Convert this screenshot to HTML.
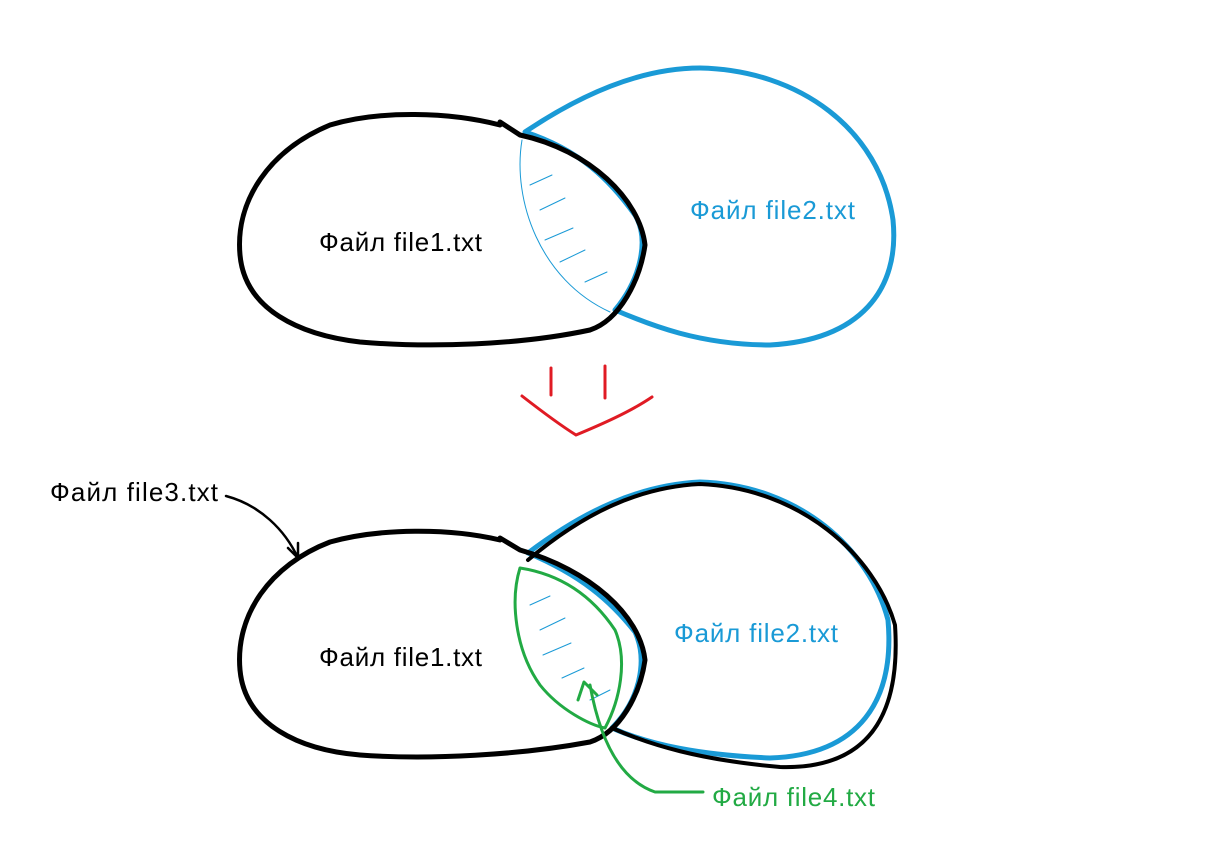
<!DOCTYPE html>
<html><head><meta charset="utf-8"><style>
body{margin:0;background:#fff;}
svg{display:block}
text{font-family:"Liberation Sans","DejaVu Sans",sans-serif;font-size:26px}
</style></head><body>
<svg width="1206" height="860" viewBox="0 0 1206 860">
<g fill="none" stroke-linecap="round" stroke-linejoin="round">
 <path stroke="#1a9ad6" stroke-width="5" d="M525,132 C580,95 640,68 700,68 C800,70 880,130 893,220 C900,290 860,340 770,345 C700,345 650,325 615,310 C640,280 650,240 635,215 C610,180 580,150 525,132 Z"/>
 <path stroke="#1a9ad6" stroke-width="1" d="M522,140 C512,200 540,280 610,312"/>
 <path stroke="#000" stroke-width="5" d="M500,125 C450,112 380,110 330,125 C270,150 235,200 240,255 C245,310 300,335 360,342 C430,348 520,345 590,330 C620,320 640,280 645,245 C640,200 590,150 520,135 L500,122"/>
 <g stroke="#1a9ad6" stroke-width="1">
  <path d="M530,185 l22,-10"/><path d="M540,210 l25,-12"/><path d="M545,240 l28,-12"/><path d="M560,262 l25,-12"/><path d="M585,282 l22,-10"/>
 </g>
 <text x="319" y="251" fill="#000" textLength="163">Файл file1.txt</text>
 <text x="690" y="219" fill="#1a9ad6" textLength="165">Файл file2.txt</text>
</g>
<g fill="none" stroke="#e01b24" stroke-width="3" stroke-linecap="round">
 <path d="M551,368 L551,395"/><path d="M605,366 L605,398"/>
 <path d="M522,396 C540,410 560,425 576,435 C600,425 630,412 652,397"/>
</g>
<g fill="none" stroke-linecap="round" stroke-linejoin="round">
 <path stroke="#1a9ad6" stroke-width="5" d="M528,553 C585,510 640,485 700,482 C800,485 870,550 888,620 C895,700 860,755 770,758 C700,755 650,745 612,728 C640,700 648,660 635,632 C610,600 580,575 528,553 Z"/>
 <path stroke="#000" stroke-width="4" d="M528,560 C585,512 640,487 700,484 C800,488 875,555 895,625 C900,700 880,770 780,767 C700,760 650,745 612,728"/>
 <path stroke="#000" stroke-width="5" d="M500,540 C450,528 380,528 330,542 C270,565 235,615 240,670 C245,725 300,750 360,755 C430,760 520,755 590,742 C620,732 640,695 645,660 C640,615 590,570 520,550 L500,538"/>
 <path stroke="#22aa44" stroke-width="3" d="M520,568 C510,600 515,650 540,685 C560,710 590,725 605,728 C620,700 628,660 615,630 C595,600 565,575 520,568 Z"/>
 <g stroke="#1a9ad6" stroke-width="1">
  <path d="M530,605 l20,-9"/><path d="M540,630 l25,-12"/><path d="M543,655 l28,-12"/><path d="M562,678 l22,-10"/><path d="M590,700 l20,-10"/>
 </g>
 <path stroke="#22aa44" stroke-width="3" d="M703,792 L655,792 C620,780 600,740 590,685 M578,700 L584,682 L597,695"/>
 <path stroke="#000" stroke-width="2.5" d="M226,496 C260,505 285,530 298,558 M288,548 L298,558 L298,543"/>
 <text x="50" y="501" fill="#000" textLength="168">Файл file3.txt</text>
 <text x="319" y="666" fill="#000" textLength="163">Файл file1.txt</text>
 <text x="674" y="642" fill="#1a9ad6" textLength="164">Файл file2.txt</text>
 <text x="712" y="806" fill="#22aa44" textLength="163">Файл file4.txt</text>
</g>
</svg>
</body></html>
